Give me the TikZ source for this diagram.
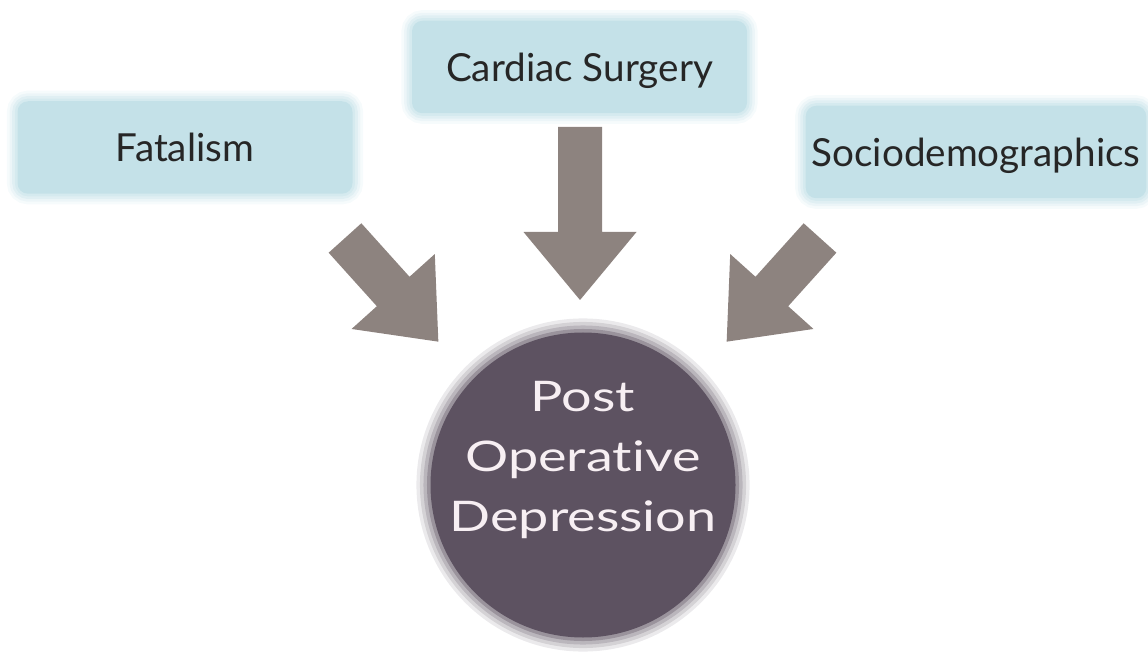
\documentclass[tikz,border=0pt]{standalone}
\usepackage{fontspec}
\setmainfont{Lato}
\newfontfamily\podfont[FakeStretch=1.28, Ligatures=NoCommon]{Lato}
\usetikzlibrary{positioning}
\definecolor{boxblue}{HTML}{C4E1E8}
\definecolor{arrowgrey}{HTML}{8D837F}
\definecolor{podfill}{HTML}{5D5261}
\definecolor{podwhite}{HTML}{F7EFF3}
\tikzset{
  factorbox/.style={fill=boxblue, rounded corners=6pt, minimum width=6.7cm,
    minimum height=1.85cm, text=black!85, text depth=0pt,
    font=\fontsize{22}{26}\selectfont,
    preaction={draw=boxblue, line width=12pt, opacity=0.15},
    preaction={draw=boxblue, line width=9pt, opacity=0.2},
    preaction={draw=boxblue, line width=6pt, opacity=0.3},
    preaction={draw=boxblue, line width=3pt, opacity=0.4}},
  podcircle/.style={circle, fill=podfill, minimum size=6.1cm, inner sep=0pt,
    preaction={draw=podfill, line width=16pt, opacity=0.12},
    preaction={draw=podfill, line width=12pt, opacity=0.16},
    preaction={draw=podfill, line width=8pt, opacity=0.22},
    preaction={draw=podfill, line width=4pt, opacity=0.35}},
  podlabel/.style={text=podwhite, align=center,
    font=\podfont\fontsize{24}{34}\selectfont},
  blockarrow/.style={fill=arrowgrey},
}
\begin{document}
\begin{tikzpicture}
    \useasboundingbox (0,0) rectangle (22.96,13.16);

    % Boxes
    \node[factorbox] (fat) at (3.70,10.21) {Fatalism};
    \node[factorbox] (card) at (11.59,11.82) {Cardiac Surgery};
    \node[factorbox] (socio) at (19.52,10.12) {Sociodemographics};

    % Circle
    \node[podcircle] (pod) at (11.66,3.46) {};
    \node[podlabel] (podtxt) at ([yshift=0.5cm]pod.center) {Post\\Operative\\Depression};

    % Arrows
    \coordinate (tailL) at (6.90,8.40);
    \coordinate (tailC) at (11.60,10.62);
    \coordinate (tailR) at (16.40,8.40);
    \fill[blockarrow, shift={(tailL)}, rotate=-48]
      (0,-0.44) -- (1.44,-0.44) -- (1.44,-1.12) -- (2.79,0) -- (1.44,1.12) -- (1.44,0.44) -- (0,0.44) -- cycle;
    \fill[blockarrow, shift={(tailC)}, rotate=-90]
      (0,-0.44) -- (2.10,-0.44) -- (2.10,-1.13) -- (3.46,0) -- (2.10,1.13) -- (2.10,0.44) -- (0,0.44) -- cycle;
    \fill[blockarrow, shift={(tailR)}, rotate=-132]
      (0,-0.44) -- (1.44,-0.44) -- (1.44,-1.12) -- (2.79,0) -- (1.44,1.12) -- (1.44,0.44) -- (0,0.44) -- cycle;
\end{tikzpicture}
\end{document}
